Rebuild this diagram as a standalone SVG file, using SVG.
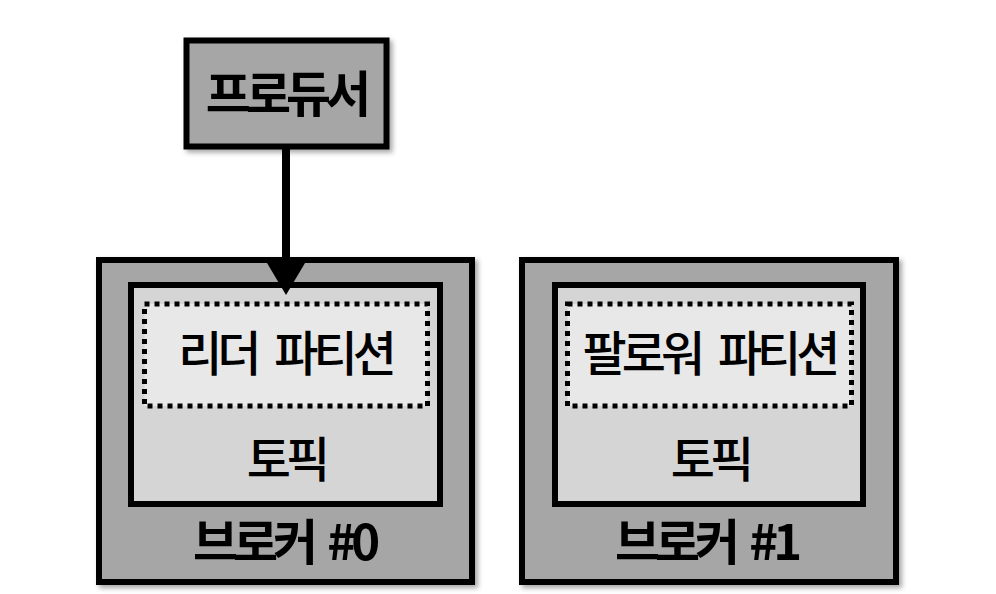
<svg xmlns="http://www.w3.org/2000/svg" width="996" height="594" viewBox="0 0 996 594">
<defs>
<filter id="sh" x="-10%" y="-10%" width="125%" height="125%">
<feDropShadow dx="3" dy="3" stdDeviation="2.5" flood-color="#000" flood-opacity="0.35"/>
</filter>
<marker id="ah" markerUnits="userSpaceOnUse" markerWidth="34" markerHeight="40" refX="7" refY="19" orient="auto" viewBox="0 0 34 38">
<path d="M0,0 L32,19 L0,38 Z" fill="#000"/>
</marker>
<style>
.outer{fill:#a6a6a6;stroke:#000;stroke-width:6;filter:url(#sh)}
.topic{fill:#d5d5d5;stroke:#000;stroke-width:6}
.part{fill:#e8e8e8;stroke:#000;stroke-width:5;stroke-dasharray:5 5}
text{font-family:"Noto Sans CJK KR","Noto Sans",sans-serif;text-anchor:middle;fill:#000}
.b{font-weight:700;font-size:49px;letter-spacing:-5px;word-spacing:8px}
.r{font-weight:500;font-size:48px;letter-spacing:-5px;word-spacing:12px}
</style>
</defs>
<rect width="996" height="594" fill="#fff"/>
<g id="producer">
<rect class="outer" x="186.5" y="40.5" width="200" height="106"/>
<text class="b" x="286" y="112">프로듀서</text>
</g>
<g id="broker0">
<rect class="outer" x="99" y="260" width="373" height="322"/>
<rect class="topic" x="131" y="285" width="309" height="219"/>
<rect class="part" x="144.5" y="304" width="283" height="102"/>
<text class="r" x="285" y="371">리더 파티션</text>
<text class="r" x="286" y="477">토픽</text>
<text class="b" x="284" y="560">브로커 #0</text>
</g>
<g id="broker1">
<rect class="outer" x="522" y="260" width="374" height="322"/>
<rect class="topic" x="555" y="285" width="308" height="219"/>
<rect class="part" x="567.5" y="304" width="284" height="102"/>
<text class="r" x="709" y="371">팔로워 파티션</text>
<text class="r" x="710" y="477">토픽</text>
<text class="b" x="706" y="560">브로커 #1</text>
</g>
<g id="connectors">
<line x1="286" y1="149" x2="286" y2="270" stroke="#000" stroke-width="8" marker-end="url(#ah)"/>
</g>
</svg>
